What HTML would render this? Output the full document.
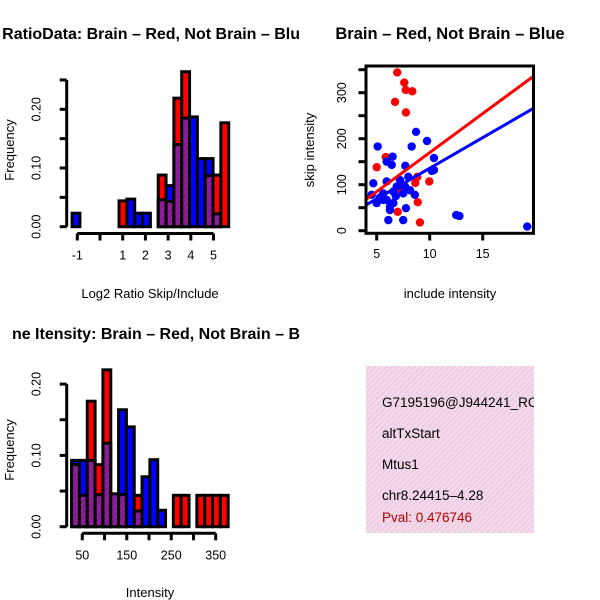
<!DOCTYPE html>
<html><head><meta charset="utf-8"><style>
html,body{margin:0;padding:0;background:#fff}
svg{display:block;font-family:"Liberation Sans",sans-serif}
</style></head><body>
<svg id="c" width="600" height="600" xmlns="http://www.w3.org/2000/svg">
<defs>
<pattern id="purp" width="4" height="4" patternUnits="userSpaceOnUse" patternTransform="rotate(45)">
<rect width="4" height="4" fill="#9a1aaa"/><rect width="2" height="4" fill="#7a2080"/></pattern>
<pattern id="pink" width="4" height="4" patternUnits="userSpaceOnUse" patternTransform="rotate(45)">
<rect width="4" height="4" fill="#f8d6f0"/><rect width="1.5" height="4" fill="#e6d0d8"/></pattern>
<clipPath id="clipL"><rect x="0" y="0" width="300" height="600"/></clipPath>
<clipPath id="clipBox"><rect x="366" y="366" width="168" height="167"/></clipPath>
</defs>
<g id="root"></g>
</svg>
<script>
// Panel 1: Log2 ratio histogram
const ratioBreakStart = -1.23;
const ratioBinWidth = 0.345;
const ratioRed  = [0,0,0,0,0,0,0.044,0,0,0,0,0.088,0.043,0.219,0.264,0,0,0.087,0.088,0.177];
const ratioBlue = [0.023,0,0,0,0,0,0,0.047,0.023,0.023,0,0.046,0.07,0.14,0.185,0.187,0.116,0.116,0.022,0];
const ratioXTicks = [-1,0,1,2,3,4,5];
const ratioXLabels = ["-1","","1","2","3","4","5"];
const ratioYTicks = [0,0.05,0.10,0.15,0.20,0.25];
const ratioYLabels = ["0.00","","0.10","","0.20",""];
// Panel 3: intensity histogram
const intBreakStart = 26;
const intBinWidth = 17.6;
const intRed  = [0.087,0.044,0.176,0.087,0.22,0.046,0.045,0,0.044,0,0,0,0,0.044,0.044,0,0.044,0.044,0.044,0.044];
const intBlue = [0.093,0.093,0.093,0.045,0.117,0.046,0.164,0.14,0.022,0.07,0.094,0.023,0,0,0,0,0,0,0,0];
const intXTicks = [50,100,150,200,250,300,350];
const intXLabels = ["50","","150","","250","","350"];
const intYTicks = [0,0.05,0.10,0.15,0.20];
const intYLabels = ["0.00","","0.10","","0.20"];
// Panel 2: scatter
const redX = [6.94,7.6,7.74,8.36,6.73,7.76,5.0,5.85,8.83,9.96,8.64,8.87,6.98,9.08,7.2];
const redY = [344,322,306,303,280,257,138,160,117,107,104,62,41,18,88];
const blueX = [5.09,8.71,9.75,8.3,6.5,5.94,6.42,7.7,10.4,10.4,10.2,4.68,5.94,7.2,7.98,7.67,8.14,6.57,5.62,7.5,8.6,4.53,5.0,5.94,6.25,6.57,6.89,6.25,7.76,6.1,7.5,12.5,12.8,19.2,5.62,5.3,6.8,7.3];
const blueY = [183,215,195,183,161,150,143,141,158,132,130,103,107,110,117,96,88,85,81,81,78,78,60,67,52,60,96,45,49,23,23,34,32,9,67,72,75,100];
const fitIntercept = [0.2,2.8];
const fitSlope = [16.96,13.3];
const fitColors = ["#ff0000","#0000ff"];
const scXTicks = [5,10,15];
const scYTicks = [0,50,100,150,200,250,300,350];
const scYLabels = ["0","","100","","200","","300",""];

const NS="http://www.w3.org/2000/svg";
const root=document.getElementById('root');
function mk(tag,attrs,parent){const e=document.createElementNS(NS,tag);for(const k in attrs)e.setAttribute(k,attrs[k]);(parent||root).appendChild(e);return e;}
function txt(s,x,y,opts,parent){const e=mk('text',Object.assign({x:x,y:y,'font-size':12.5,'text-anchor':'middle',fill:'#000'},opts||{}),parent);e.textContent=s;return e;}

function histogram(cfg){
  const g=mk('g',{});
  
  
  const sx=v=>cfg.x0+(v-cfg.xv0)*cfg.kx;
  const sy=v=>cfg.y0-v*cfg.ky;
  for(let i=0;i<cfg.red.length;i++){
    const l=sx(cfg.start+i*cfg.w), r=sx(cfg.start+(i+1)*cfg.w);
    const rv=cfg.red[i], bv=cfg.blue[i];
    const hi=Math.max(rv,bv), lo=Math.min(rv,bv);
    if(hi>0){
      const b=mk('rect',{x:l,y:sy(hi),width:r-l,height:sy(0)-sy(hi),fill:rv>=bv?'#ff0000':'#0000ff',stroke:'#000','stroke-width':3},g);
      
      
    }
    if(lo>0){
      const p=mk('rect',{x:l,y:sy(lo),width:r-l,height:sy(0)-sy(lo),fill:'url(#purp)',stroke:'#000','stroke-width':3},g);
      
      
    }
  }
  const ax=mk('g',{stroke:'#000','stroke-width':3},g);
  
  
  const yt=cfg.yTicks;
  mk('line',{x1:cfg.yAxisX,x2:cfg.yAxisX,y1:sy(yt[0]),y2:sy(yt[yt.length-1])},ax);
  yt.forEach((t,i)=>{mk('line',{x1:cfg.yAxisX-7,x2:cfg.yAxisX,y1:sy(t),y2:sy(t)},ax);
    if(cfg.yLabels[i]){const e=txt(cfg.yLabels[i],0,0,{transform:`translate(${cfg.yAxisX-26},${sy(t)}) rotate(-90)`,stroke:'none'},g);
    }});
  const xa=mk('g',{stroke:'#000','stroke-width':3},g);
  
  
  const xt=cfg.xTicks;
  mk('line',{x1:sx(xt[0]),x2:sx(xt[xt.length-1]),y1:cfg.xAxisY,y2:cfg.xAxisY},xa);
  xt.forEach((t,i)=>{mk('line',{x1:sx(t),x2:sx(t),y1:cfg.xAxisY,y2:cfg.xAxisY+7},xa);
    if(cfg.xLabels[i]){const e=txt(cfg.xLabels[i],sx(t),cfg.xAxisY+26,{},g);
    }});
}
histogram({name:'ratio-histogram',red:ratioRed,blue:ratioBlue,start:ratioBreakStart,w:ratioBinWidth,
  x0:77.3,xv0:-1,kx:22.7,y0:226.7,ky:587,yAxisX:66.7,xAxisY:233.5,
  xTicks:ratioXTicks,xLabels:ratioXLabels,yTicks:ratioYTicks,yLabels:ratioYLabels});
histogram({name:'intensity-histogram',red:intRed,blue:intBlue,start:intBreakStart,w:intBinWidth,
  x0:82.3,xv0:50,kx:0.4447,y0:526.7,ky:713,yAxisX:66.7,xAxisY:533.3,
  xTicks:intXTicks,xLabels:intXLabels,yTicks:intYTicks,yLabels:intYLabels});

// scatter
(function(){
  const g=mk('g',{});
  
  
  const sx=v=>376.7+(v-5)*10.6, sy=v=>230.7-v*0.46;
  const cp=mk('clipPath',{id:'scClip'},g);mk('rect',{x:366,y:66,width:168,height:167},cp);
  const pts=mk('g',{'clip-path':'url(#scClip)'},g);
  redX.forEach((x,i)=>{const c=mk('circle',{cx:sx(x),cy:sy(redY[i]),r:4.2,fill:'#ff0000'},pts);
    });
  blueX.forEach((x,i)=>{const c=mk('circle',{cx:sx(x),cy:sy(blueY[i]),r:4.2,fill:'#0000ff'},pts);
    });
  fitIntercept.forEach((a,i)=>{const x1=3.9,x2=20;const l=mk('line',{x1:sx(x1),x2:sx(x2),y1:sy(a+fitSlope[i]*x1),y2:sy(a+fitSlope[i]*x2),stroke:fitColors[i],'stroke-width':3},pts);
    });
  const f=mk('rect',{x:366,y:66,width:167.5,height:167.3,fill:'none',stroke:'#000','stroke-width':3},g);
  
  scXTicks.forEach(t=>{mk('line',{x1:sx(t),x2:sx(t),y1:233.3,y2:240.5,stroke:'#000','stroke-width':3},g);
    const e=txt(String(t),sx(t),258,{},g);});
  scYTicks.forEach((t,i)=>{mk('line',{x1:358.5,x2:366,y1:sy(t),y2:sy(t),stroke:'#000','stroke-width':3},g);
    if(scYLabels[i]){const e=txt(scYLabels[i],0,0,{transform:`translate(346,${sy(t)}) rotate(-90)`},g);
    }});
})();
</script>
<svg width="600" height="600" style="position:absolute;left:0;top:0" xmlns="http://www.w3.org/2000/svg">
<g clip-path="url(#clipL)" font-family="Liberation Sans, sans-serif">
<text x="300" y="39" font-size="16" font-weight="bold" text-anchor="end">RatioData: Brain – Red, Not Brain – Blu</text>
<text x="300" y="339" font-size="16" font-weight="bold" text-anchor="end">ne Itensity: Brain – Red, Not Brain – B</text>
</g>
<text x="150" y="298" font-size="13" text-anchor="middle" font-family="Liberation Sans, sans-serif">Log2 Ratio Skip/Include</text>
<text x="150" y="597" font-size="13" text-anchor="middle" font-family="Liberation Sans, sans-serif">Intensity</text>
<text transform="translate(14,150) rotate(-90)" font-size="13" text-anchor="middle" font-family="Liberation Sans, sans-serif">Frequency</text>
<text transform="translate(14,450) rotate(-90)" font-size="13" text-anchor="middle" font-family="Liberation Sans, sans-serif">Frequency</text>
<text x="450" y="39" font-size="16.5" font-weight="bold" text-anchor="middle" font-family="Liberation Sans, sans-serif">Brain – Red, Not Brain – Blue</text>
<text x="450" y="298" font-size="13" text-anchor="middle" font-family="Liberation Sans, sans-serif">include intensity</text>
<text transform="translate(314,150) rotate(-90)" font-size="13" text-anchor="middle" font-family="Liberation Sans, sans-serif">skip intensity</text>
<g>
<rect x="366" y="366" width="168" height="167" fill="url(#pink)"/>
<g clip-path="url(#clipBox)" font-family="Liberation Sans, sans-serif" font-size="13.5">
<text x="382" y="407">G7195196@J944241_RC</text>
<text x="382" y="438">altTxStart</text>
<text x="382" y="469">Mtus1</text>
<text x="382" y="500">chr8.24415–4.28</text>
<text x="382" y="522" fill="#b00000">Pval: 0.476746</text>
</g>
</g>
</svg>
</body></html>
